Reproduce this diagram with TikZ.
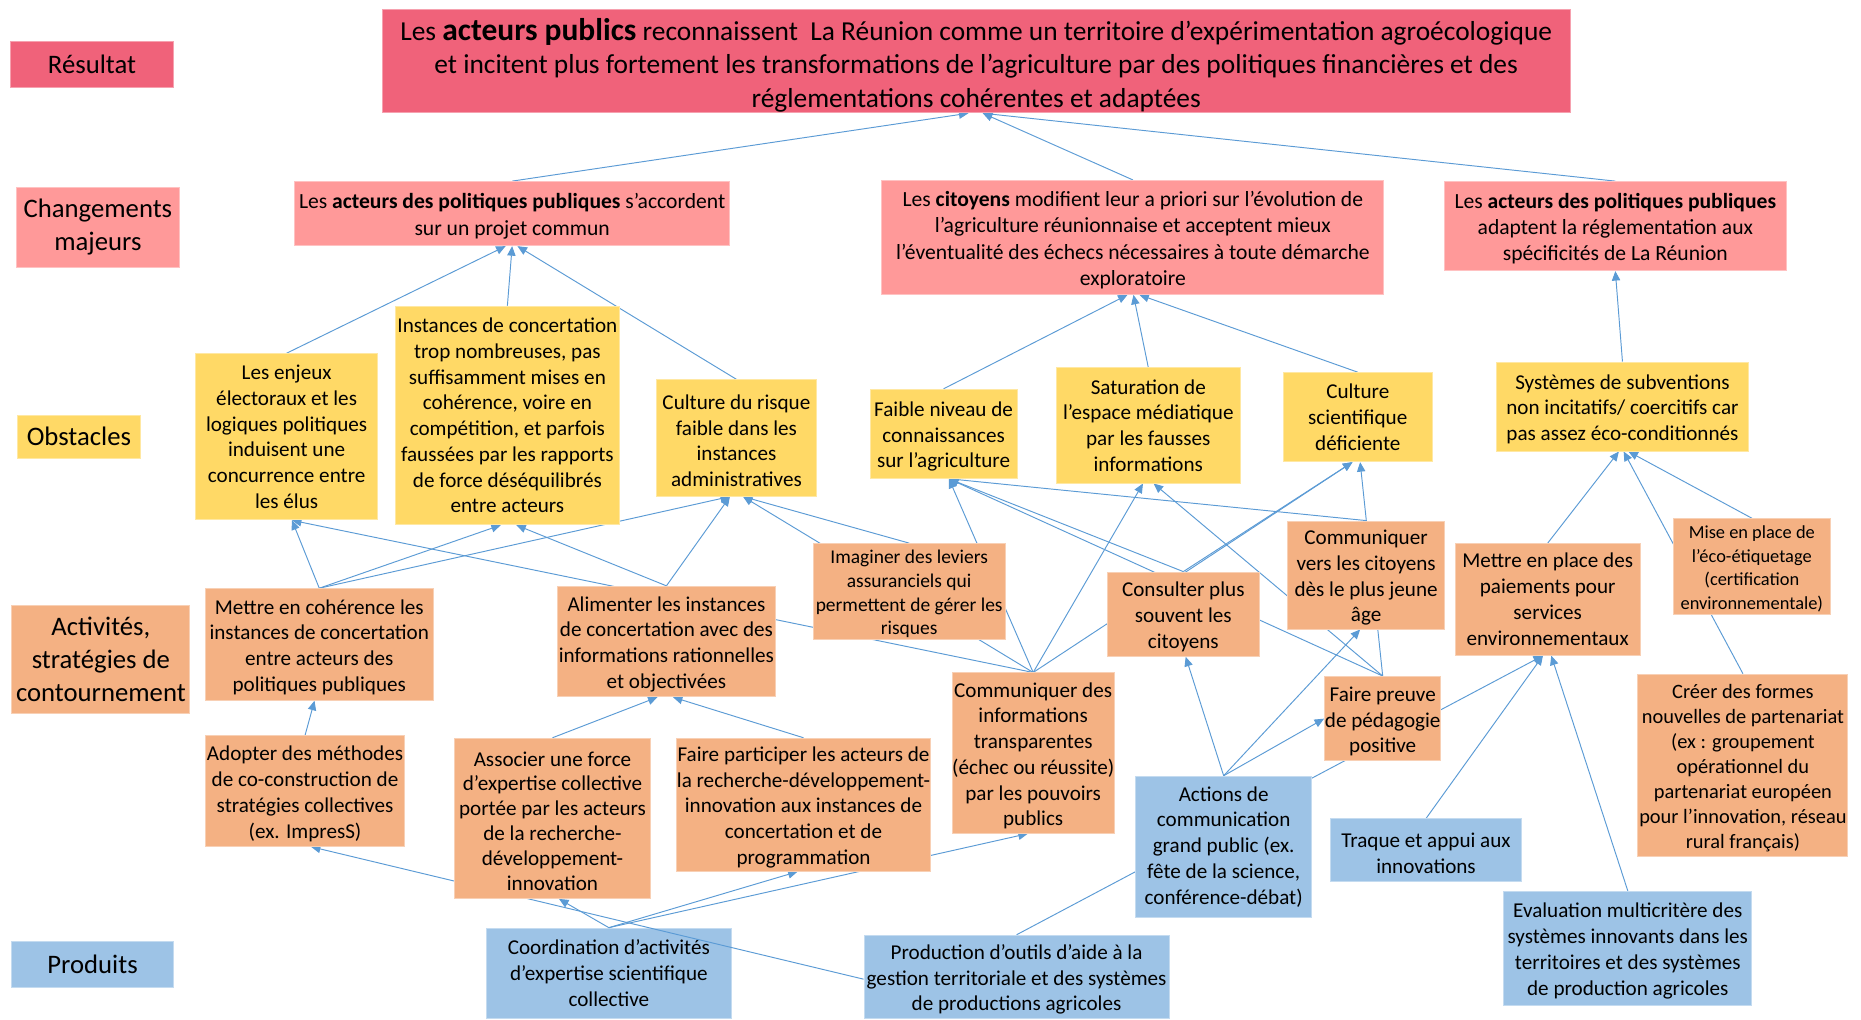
\documentclass[tikz,border=0pt]{standalone}
\usepackage{fontspec}
\setmainfont{Carlito}
\usetikzlibrary{arrows.meta}
\definecolor{cRes}{RGB}{240,98,122}
\definecolor{cCM}{RGB}{255,153,153}
\definecolor{cObs}{RGB}{255,217,102}
\definecolor{cAct}{RGB}{244,177,131}
\definecolor{cProd}{RGB}{157,195,230}
\definecolor{cLine}{RGB}{91,155,213}
\newcommand\myfs[2]{\fontsize{#1}{#2}\selectfont}
\newcommand\tstr{\rule{0pt}{0.952em}}
\pgfdeclarelayer{under}
\pgfdeclarelayer{lines}
\pgfsetlayers{under,lines,main}
\tikzset{
  box/.style={rectangle, inner sep=0pt, align=center, line width=0.8pt,
    font=\myfs{17.8}{21.7}},
  lab/.style={box, font=\myfs{22.5}{27.5}},
  resbox/.style={fill=cRes, draw=cRes!60!white},
  chbox/.style={box, fill=cCM, draw=cCM!60!white, font=\myfs{18.2}{22.2}},
  obsbox/.style={box, fill=cObs, draw=cObs!60!white},
  actbox/.style={box, fill=cAct, draw=cAct!60!white},
  prodbox/.style={box, fill=cProd, draw=cProd!60!white},
  conn/.style={draw=cLine, line width=0.8pt, -{Triangle[length=8pt,width=7pt]}}
}
\begin{document}
\begin{tikzpicture}[x=1pt,y=-1pt]
\useasboundingbox (0,0) rectangle (1568,859);
\begin{pgfonlayer}{under}
\fill[white] (0,0) rectangle (1568,859);
\node[prodbox, minimum width=206pt, minimum height=76pt] (P1) at (513,820) {Coordination d’activités\\d’expertise scientifique\\collective};
\end{pgfonlayer}

% left labels
\node[lab, resbox, minimum width=137pt, minimum height=39pt] (LR) at (77.5,54.5) {Résultat};
\node[lab, chbox, font=\myfs{22.5}{27.5}, minimum width=137pt, minimum height=67pt] (LC) at (82.5,191.5) {Changements\\majeurs};
\node[lab, obsbox, font=\myfs{22.5}{27.5}, minimum width=103pt, minimum height=36pt] (LO) at (66.5,368) {Obstacles};
\node[lab, actbox, font=\myfs{22.5}{27.5}, minimum width=150pt, minimum height=91pt] (LA) at (85,555.5) {Activités,\\stratégies de\\contournement};
\node[lab, prodbox, font=\myfs{22.5}{27.5}, minimum width=136pt, minimum height=39pt] (LP) at (78,812.5) {Produits};

% result
\node[box, resbox, font=\myfs{23.1}{28.2}, minimum width=1001pt, minimum height=87pt] (R) at (822.5,51.5) {\rule{0pt}{25.5pt}Les {\myfs{26.5}{28.2}\textbf{acteurs publics}} reconnaissent\ \ La Réunion comme un territoire d’expérimentation agroécologique\\et incitent plus fortement les transformations de l’agriculture par des politiques financières et des\\réglementations cohérentes et adaptées};

% major changes
\node[chbox, minimum width=367pt, minimum height=54pt] (CM1) at (431.5,180) {\tstr Les \textbf{acteurs des politiques publiques} s’accordent\\sur un projet commun};
\node[chbox, minimum width=423pt, minimum height=96pt] (CM2) at (954.5,200) {\tstr Les \textbf{citoyens} modifient leur a priori sur l’évolution de\\l’agriculture réunionnaise et acceptent mieux\\l’éventualité des échecs nécessaires à toute démarche\\exploratoire};
\node[chbox, minimum width=288pt, minimum height=75pt] (CM3) at (1361,190.5) {\tstr Les \textbf{acteurs des politiques publiques}\\adaptent la réglementation aux\\spécificités de La Réunion};

% obstacles
\node[obsbox, minimum width=153pt, minimum height=140pt] (O1) at (241.5,368) {Les enjeux\\électoraux et les\\logiques politiques\\induisent une\\concurrence entre\\les élus};
\node[obsbox, minimum width=189pt, minimum height=184pt] (O2) at (427.5,350) {Instances de concertation\\trop nombreuses, pas\\suffisamment mises en\\cohérence, voire en\\compétition, et parfois\\faussées par les rapports\\de force déséquilibrés\\entre acteurs};
\node[obsbox, minimum width=135pt, minimum height=98pt] (O3) at (620.5,369) {\tstr Culture du risque\\faible dans les\\instances\\administratives};
\node[obsbox, minimum width=124pt, minimum height=75pt] (O4) at (795,365.5) {\tstr Faible niveau de\\connaissances\\sur l’agriculture};
\node[obsbox, minimum width=155pt, minimum height=97pt] (O5) at (967.5,358.5) {Saturation de\\l’espace médiatique\\par les fausses\\informations};
\node[obsbox, minimum width=126pt, minimum height=75pt] (O6) at (1144,351.5) {Culture\\scientifique\\déficiente};
\node[obsbox, minimum width=212pt, minimum height=75pt] (O7) at (1367,342.5) {\tstr Systèmes de subventions\\non incitatifs/ coercitifs car\\pas assez éco-conditionnés};

% activities
\node[actbox, minimum width=192pt, minimum height=94pt] (A1) at (269,543) {\tstr Mettre en cohérence les\\instances de concertation\\entre acteurs des\\politiques publiques};
\node[actbox, minimum width=183pt, minimum height=93pt] (A2) at (561.5,540.5) {\tstr Alimenter les instances\\de concertation avec des\\informations rationnelles\\et objectivées};
\node[actbox, font=\myfs{16.4}{20}, minimum width=162pt, minimum height=81pt] (A3) at (766,498.5) {\tstr Imaginer des leviers\\assuranciels qui\\permettent de gérer les\\risques};
\node[actbox, minimum width=128pt, minimum height=71pt] (A4) at (997,517.5) {\tstr Consulter plus\\souvent les\\citoyens};
\node[actbox, minimum width=132pt, minimum height=91pt] (A5) at (1151,484.5) {\tstr Communiquer\\vers les citoyens\\dès le plus jeune\\âge};
\node[actbox, minimum width=156pt, minimum height=94pt] (A6) at (1304,505) {Mettre en place des\\paiements pour\\services\\environnementaux};
\node[actbox, font=\myfs{15.5}{19.8}, minimum width=132pt, minimum height=81pt] (A7) at (1476,477.5) {\tstr Mise en place de\\l’éco-étiquetage\\(certification\\environnementale)};
\node[actbox, minimum width=168pt, minimum height=93pt] (A8) at (257,666.5) {\tstr Adopter des méthodes\\de co-construction de\\stratégies collectives\\(ex. ImpresS)};
\node[actbox, font=\myfs{17.8}{21}, minimum width=165pt, minimum height=135pt] (A9) at (465.5,689.5) {\tstr Associer une force\\d’expertise collective\\portée par les acteurs\\de la recherche-\\développement-\\innovation};
\node[actbox, minimum width=210pt, minimum height=112pt] (A10) at (677,678) {\tstr Faire participer les acteurs de\\la recherche-développement-\\innovation aux instances de\\concertation et de\\programmation};
\node[actbox, minimum width=133pt, minimum height=135pt] (A11) at (870.5,634.5) {\tstr Communiquer des\\informations\\transparentes\\(échec ou réussite)\\par les pouvoirs\\publics};
\node[actbox, minimum width=98pt, minimum height=71pt] (A12) at (1165,605.5) {\tstr Faire preuve\\de pédagogie\\positive};
\node[actbox, font=\myfs{17.2}{21}, minimum width=177pt, minimum height=154pt] (A13) at (1468.5,645) {\tstr Créer des formes\\nouvelles de partenariat\\(ex : groupement\\opérationnel du\\partenariat européen\\pour l’innovation, réseau\\rural français)};

% products
\node[prodbox, minimum width=257pt, minimum height=70pt] (P2) at (856.5,823) {\tstr Production d’outils d’aide à la\\gestion territoriale et des systèmes\\de productions agricoles};
\node[prodbox, minimum width=148pt, minimum height=119pt] (P3) at (1031,713.5) {Actions de\\communication\\grand public (ex.\\fête de la science,\\conférence-débat)};
\node[prodbox, minimum width=161pt, minimum height=53pt] (P4) at (1201.5,716.5) {\tstr Traque et appui aux\\innovations};
\node[prodbox, minimum width=209pt, minimum height=96pt] (P5) at (1371.5,799) {\tstr Evaluation multicritère des\\systèmes innovants dans les\\territoires et des systèmes\\de production agricoles};

\begin{pgfonlayer}{lines}
% to result
\draw[conn] (CM1.north) -- ([xshift=-6.5pt]R.south);
\draw[conn] (CM2.north) -- ([xshift=5.5pt]R.south);
\draw[conn] (CM3.north) -- ([xshift=5.5pt]R.south);
% to CM1
\draw[conn] (O1.north) -- ([xshift=-5.5pt]CM1.south);
\draw[conn] (O2.north) -- ([xshift=0pt]CM1.south);
\draw[conn] (O3.north) -- ([xshift=4.5pt]CM1.south);
% to CM2
\draw[conn] (O4.north) -- ([xshift=-4.5pt]CM2.south);
\draw[conn] (O5.north) -- ([xshift=0.5pt]CM2.south);
\draw[conn] (O6.north) -- ([xshift=5.5pt]CM2.south);
% to CM3
\draw[conn] (O7.north) -- (CM3.south);
% to O1
\draw[conn] (A1.north) -- ([xshift=4.5pt]O1.south);
\draw[conn] (A11.north) -- ([xshift=4.5pt]O1.south);
% to O2
\draw[conn] (A1.north) -- ([xshift=-5.5pt]O2.south);
\draw[conn] (A2.north) -- ([xshift=7.5pt]O2.south);
% to O3
\draw[conn] (A1.north) -- ([xshift=-5.5pt]O3.south);
\draw[conn] (A2.north) -- ([xshift=-5.5pt]O3.south);
\draw[conn] (A3.north) -- ([xshift=5.5pt]O3.south);
\draw[conn] (A11.north) -- ([xshift=5.5pt]O3.south);
% to O4
\draw[conn] (A11.north) -- ([xshift=4.5pt]O4.south);
\draw[conn] (A4.north) -- ([xshift=4.5pt]O4.south);
\draw[conn] (A12.north) -- ([xshift=4.5pt]O4.south);
\draw[conn] (A5.north) -- ([xshift=4.5pt]O4.south);
% to O5
\draw[conn] (A11.north) -- ([xshift=-4.5pt]O5.south);
\draw[conn] (A12.north) -- ([xshift=4.5pt]O5.south);
% to O6
\draw[conn] (A11.north) -- ([xshift=-4.5pt]O6.south);
\draw[conn] (A4.north) -- ([xshift=-4.5pt]O6.south);
\draw[conn] (A12.north) -- ([xshift=2pt]O6.south);
% to O7
\draw[conn] (A6.north) -- ([xshift=-3pt]O7.south);
\draw[conn] (A13.north) -- ([xshift=1pt]O7.south);
\draw[conn] (A7.north) -- ([xshift=5pt]O7.south);
% to activities
\draw[conn] (A8.north) -- ([xshift=-4pt]A1.south);
\draw[conn] (A9.north) -- ([xshift=-7.5pt]A2.south);
\draw[conn] (A10.north) -- ([xshift=5.5pt]A2.south);
\draw[conn] (P2.north) -- ([xshift=-4pt]A6.south);
\draw[conn] (P4.north) -- ([xshift=-4pt]A6.south);
\draw[conn] (P5.north) -- ([xshift=3pt]A6.south);
\draw[conn] (P3.north) -- ([xshift=2pt]A4.south);
\draw[conn] (P3.north) -- ([xshift=-5pt]A5.south);
\draw[conn] (P3.north) -- (A12.west);
\draw[conn] ([yshift=-2pt]P2.west) -- ([xshift=5pt]A8.south);
\draw[conn] (P1.north) -- ([xshift=5.5pt]A9.south);
\draw[conn] (P1.north) -- ([xshift=-5pt]A10.south);
\draw[conn] (P1.north) -- ([xshift=-4.5pt]A11.south);
\end{pgfonlayer}
\end{tikzpicture}
\end{document}
